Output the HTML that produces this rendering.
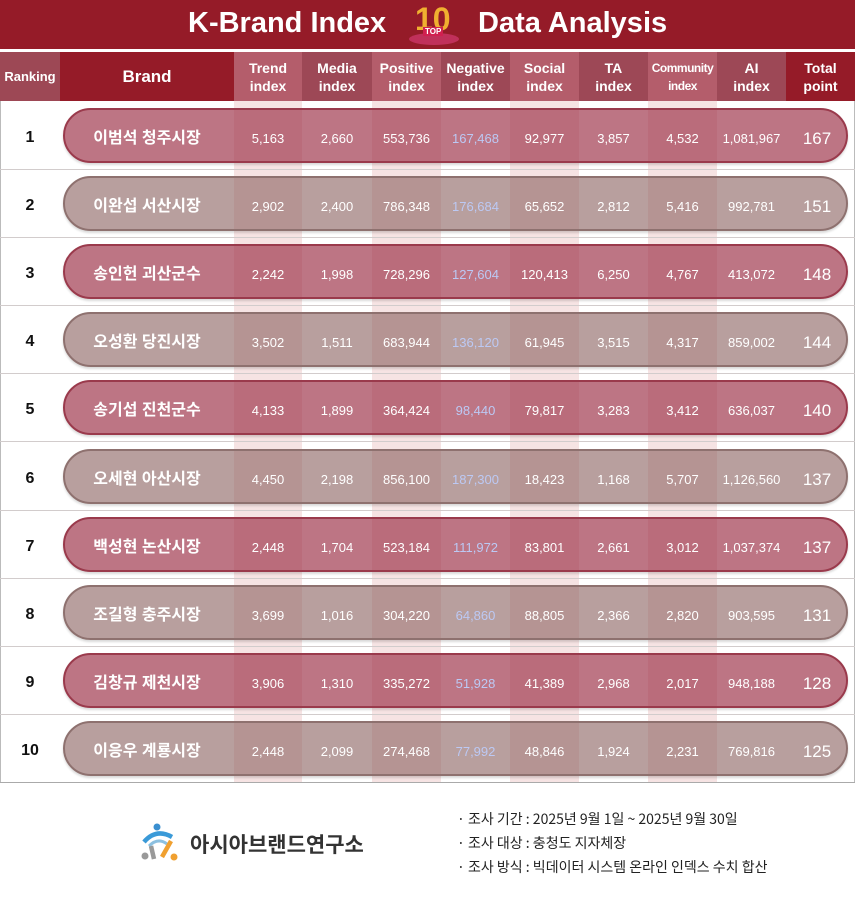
<!DOCTYPE html>
<html><head><meta charset="utf-8"><style>
*{margin:0;padding:0;box-sizing:border-box}
body{width:855px;height:898px;background:#fff;font-family:"Liberation Sans","Noto Sans CJK KR",sans-serif;position:relative;overflow:hidden}
.title{position:absolute;left:0;top:0;width:855px;height:49px;background:#951b28;color:#fff;font-weight:bold;font-size:29px}
.title span{position:absolute;top:7px}
.hdr{position:absolute;top:52px;height:49px;color:#fff;font-weight:bold;font-size:14px;line-height:18px;display:flex;align-items:center;justify-content:center;text-align:center}
.stripe{position:absolute;top:101px;height:681px;background:#f6e3e3}
.rowline{position:absolute;left:0;width:855px;height:1px;background:#d2cccc}
.pill{position:absolute;left:63px;width:785px;height:55px;border-radius:28px}
.odd{background:rgba(158,52,74,0.68);border:2px solid #9a3a4c;box-shadow:0 2px 2px rgba(0,0,0,.15)}
.even{background:rgba(140,100,98,0.62);border:2px solid #8e716f;box-shadow:0 2px 2px rgba(0,0,0,.15)}
.c{position:absolute;color:#fff;font-size:13px;text-align:center;line-height:20px}
.rk{position:absolute;left:0;width:60px;text-align:center;font-size:16px;font-weight:bold;color:#111;line-height:20px}
.nm{font-size:16px;font-weight:bold}
.tot{font-size:17px}
.neg{color:#bcc9f4}
.foot{position:absolute;font-size:14px;color:#222;font-family:"Noto Sans CJK KR",sans-serif}
</style></head><body>
<div class="title"><span style="left:188px">K-Brand Index</span><span style="left:478px">Data Analysis</span>
<div style="position:absolute;left:403px;top:5px;width:60px;height:42px">
<div style="position:absolute;left:6px;top:28px;width:50px;height:12px;border-radius:50%;background:#c0305a"></div>
<div style="position:absolute;left:12px;top:-4px;font-size:32px;color:#f0b030;font-family:'Liberation Sans';font-weight:bold">10</div>
<div style="position:absolute;left:20px;top:22px;font-size:8px;color:#fff;background:#d02050;padding:0 2px">TOP</div></div></div>
<div style="position:absolute;left:0;top:49px;width:855px;height:3px;background:#fff"></div>
<div class="hdr" style="left:0;width:60px;background:#9d4855;font-size:13px">Ranking</div>
<div class="hdr" style="left:60px;width:174px;background:#951b28;font-size:17px">Brand</div>
<div class="hdr" style="left:234px;width:68px;background:#b45d6b">Trend<br>index</div>
<div class="hdr" style="left:302px;width:70px;background:#9d4856">Media<br>index</div>
<div class="hdr" style="left:372px;width:69px;background:#b45d6b">Positive<br>index</div>
<div class="hdr" style="left:441px;width:69px;background:#9d4856">Negative<br>index</div>
<div class="hdr" style="left:510px;width:69px;background:#b45d6b">Social<br>index</div>
<div class="hdr" style="left:579px;width:69px;background:#9d4856">TA<br>index</div>
<div class="hdr" style="left:648px;width:69px;background:#b45d6b;font-size:12px;letter-spacing:-.5px">Community<br>index</div>
<div class="hdr" style="left:717px;width:69px;background:#9d4856">AI<br>index</div>
<div class="hdr" style="left:786px;width:69px;background:#951b28">Total<br>point</div>
<div class="stripe" style="left:234px;width:68px"></div>
<div class="stripe" style="left:372px;width:69px"></div>
<div class="stripe" style="left:510px;width:69px"></div>
<div class="stripe" style="left:648px;width:69px"></div>
<div style="position:absolute;left:0;top:101px;width:1px;height:681px;background:#bbb"></div>
<div style="position:absolute;left:854px;top:101px;width:1px;height:681px;background:#bbb"></div>
<div id="rows"></div>
<script>
(function(){
var d=[["이범석 청주시장","5,163","2,660","553,736","167,468","92,977","3,857","4,532","1,081,967","167"],
["이완섭 서산시장","2,902","2,400","786,348","176,684","65,652","2,812","5,416","992,781","151"],
["송인헌 괴산군수","2,242","1,998","728,296","127,604","120,413","6,250","4,767","413,072","148"],
["오성환 당진시장","3,502","1,511","683,944","136,120","61,945","3,515","4,317","859,002","144"],
["송기섭 진천군수","4,133","1,899","364,424","98,440","79,817","3,283","3,412","636,037","140"],
["오세현 아산시장","4,450","2,198","856,100","187,300","18,423","1,168","5,707","1,126,560","137"],
["백성현 논산시장","2,448","1,704","523,184","111,972","83,801","2,661","3,012","1,037,374","137"],
["조길형 충주시장","3,699","1,016","304,220","64,860","88,805","2,366","2,820","903,595","131"],
["김창규 제천시장","3,906","1,310","335,272","51,928","41,389","2,968","2,017","948,188","128"],
["이응우 계룡시장","2,448","2,099","274,468","77,992","48,846","1,924","2,231","769,816","125"]];
var cols=[[60,174],[234,68],[302,70],[372,69],[441,69],[510,69],[579,69],[648,69],[717,69],[786,62]];
var h="";
for(var i=0;i<10;i++){var y=101+i*68.1;
h+='<div class="rowline" style="top:'+Math.round(y+68)+'px"></div>';
h+='<div class="pill '+(i%2?'even':'odd')+'" style="top:'+Math.round(y+7)+'px"></div>';
h+='<div class="rk" style="top:'+Math.round(y+27)+'px">'+(i+1)+'</div>';
for(var j=0;j<10;j++){var cl="c"+(j==0?" nm":"")+(j==9?" tot":"")+(j==4?" neg":"");
h+='<div class="'+cl+'" style="left:'+cols[j][0]+'px;width:'+cols[j][1]+'px;top:'+Math.round(y+28)+'px">'+d[i][j]+'</div>';}}
document.getElementById("rows").innerHTML=h;
})();
</script>
<div style="position:absolute;left:0;top:782px;width:855px;height:1px;background:#aaa"></div>
<svg style="position:absolute;left:140px;top:822px" width="40" height="44">
<circle cx="17" cy="5" r="3.5" fill="#3a8fd0"/>
<path d="M4 20 Q16 6 32 15" stroke="#3a9ad8" stroke-width="4.5" fill="none"/>
<path d="M9 24 Q18 15 27 22" stroke="#8cc0e0" stroke-width="3" fill="none"/>
<path d="M22 35 L31 19" stroke="#f0a030" stroke-width="4.5"/>
<path d="M14 37 L11 24" stroke="#999" stroke-width="4.5"/>
<circle cx="5" cy="34" r="3.5" fill="#999"/><circle cx="34" cy="35" r="3.5" fill="#f0a030"/></svg>
<div class="foot" style="left:190px;top:829px;font-size:21px;font-weight:bold;color:#333">아시아브랜드연구소</div>
<div class="foot" style="left:457px;top:809px">· 조사 기간 : 2025년 9월 1일 ~ 2025년 9월 30일</div>
<div class="foot" style="left:457px;top:833px">· 조사 대상 : 충청도 지자체장</div>
<div class="foot" style="left:457px;top:857px">· 조사 방식 : 빅데이터 시스템 온라인 인덱스 수치 합산</div>
</body></html>
